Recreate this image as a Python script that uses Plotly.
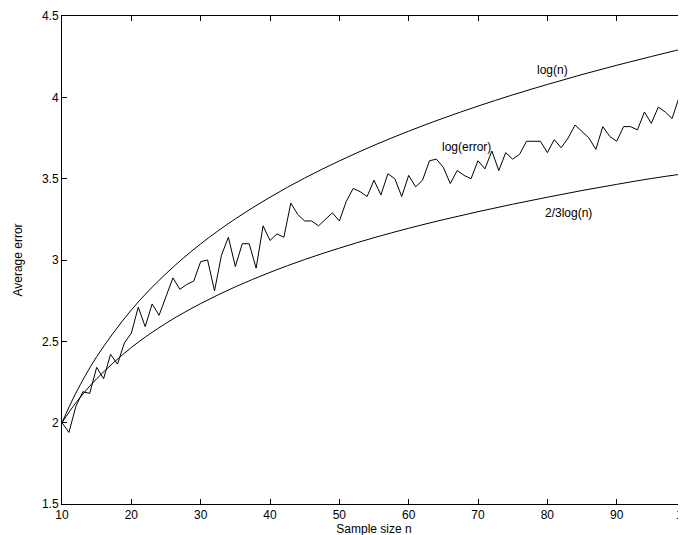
import plotly.graph_objects as go

# Smooth reference curves
n_curve = [10, 12, 15, 20, 25, 30, 35, 40, 45, 50, 55, 60, 65, 70, 75, 80, 85, 90, 95, 100]
log_n = [2.000, 2.182, 2.405, 2.693, 2.916, 3.099, 3.253, 3.386, 3.504, 3.609, 3.705, 3.792,
         3.872, 3.946, 4.015, 4.079, 4.140, 4.197, 4.251, 4.303]
two_thirds_log_n = [2.000, 2.122, 2.270, 2.462, 2.611, 2.732, 2.835, 2.924, 3.003, 3.073, 3.137,
                    3.195, 3.248, 3.297, 3.343, 3.386, 3.427, 3.465, 3.501, 3.532]

# Measured error curve, n = 10..100
n_err = list(range(10, 101))
log_error = [
    2.00, 1.94, 2.10, 2.19, 2.18, 2.34, 2.27, 2.42, 2.36, 2.49,
    2.55, 2.71, 2.59, 2.73, 2.66, 2.78, 2.89, 2.82, 2.85, 2.87,
    2.99, 3.00, 2.81, 3.03, 3.14, 2.96, 3.10, 3.10, 2.95, 3.21,
    3.12, 3.16, 3.14, 3.35, 3.28, 3.24, 3.24, 3.21, 3.25, 3.29,
    3.24, 3.36, 3.44, 3.42, 3.39, 3.49, 3.40, 3.53, 3.50, 3.39,
    3.52, 3.45, 3.49, 3.61, 3.62, 3.57, 3.47, 3.55, 3.52, 3.50,
    3.61, 3.56, 3.67, 3.55, 3.66, 3.62, 3.65, 3.73, 3.73, 3.73,
    3.66, 3.74, 3.69, 3.75, 3.83, 3.79, 3.75, 3.68, 3.82, 3.76,
    3.73, 3.82, 3.82, 3.80, 3.91, 3.84, 3.94, 3.91, 3.87, 4.00,
    3.92,
]

labels = ["log(n)", "log(error)", "2/3log(n)"]
label_x = [80.7, 68.3, 83.1]
label_y = [4.17, 3.695, 3.29]

FONT = "Liberation Sans, Arial, Helvetica, sans-serif"

fig = go.Figure()
fig.add_trace(go.Scatter(x=n_curve, y=log_n, mode="lines",
                         line=dict(color="black", width=1, shape="spline", smoothing=1.0)))
fig.add_trace(go.Scatter(x=n_curve, y=two_thirds_log_n, mode="lines",
                         line=dict(color="black", width=1, shape="spline", smoothing=1.0)))
fig.add_trace(go.Scatter(x=n_err, y=log_error, mode="lines",
                         line=dict(color="black", width=1)))

for t, x, y in zip(labels, label_x, label_y):
    fig.add_annotation(x=x, y=y, text=t, showarrow=False,
                       font=dict(family=FONT, size=12, color="black"))

axis_common = dict(
    showgrid=False, zeroline=False, showline=True, linecolor="black", linewidth=1,
    mirror="ticks", ticks="inside", ticklen=5, tickcolor="black", tickwidth=1,
    tickfont=dict(family=FONT, size=12, color="black"),
    ticklabeloverflow="allow",
)

fig.update_xaxes(range=[10, 100], tickvals=[10, 20, 30, 40, 50, 60, 70, 80, 90, 100],
                 title=dict(text="Sample size n", font=dict(family=FONT, size=12, color="black"),
                            standoff=0),
                 **axis_common)
fig.update_yaxes(range=[1.5, 4.5], tickvals=[1.5, 2, 2.5, 3, 3.5, 4, 4.5],
                 ticktext=["1.5", "2", "2.5", "3", "3.5", "4", "4.5"],
                 title=dict(text="Average error", font=dict(family=FONT, size=12, color="black"),
                            standoff=16),
                 **axis_common)

fig.update_layout(
    width=686, height=535,
    margin=dict(l=54, r=8, t=8, b=39, autoexpand=False),
    paper_bgcolor="white", plot_bgcolor="white",
    showlegend=False,
)

fig.write_html("out.html")
